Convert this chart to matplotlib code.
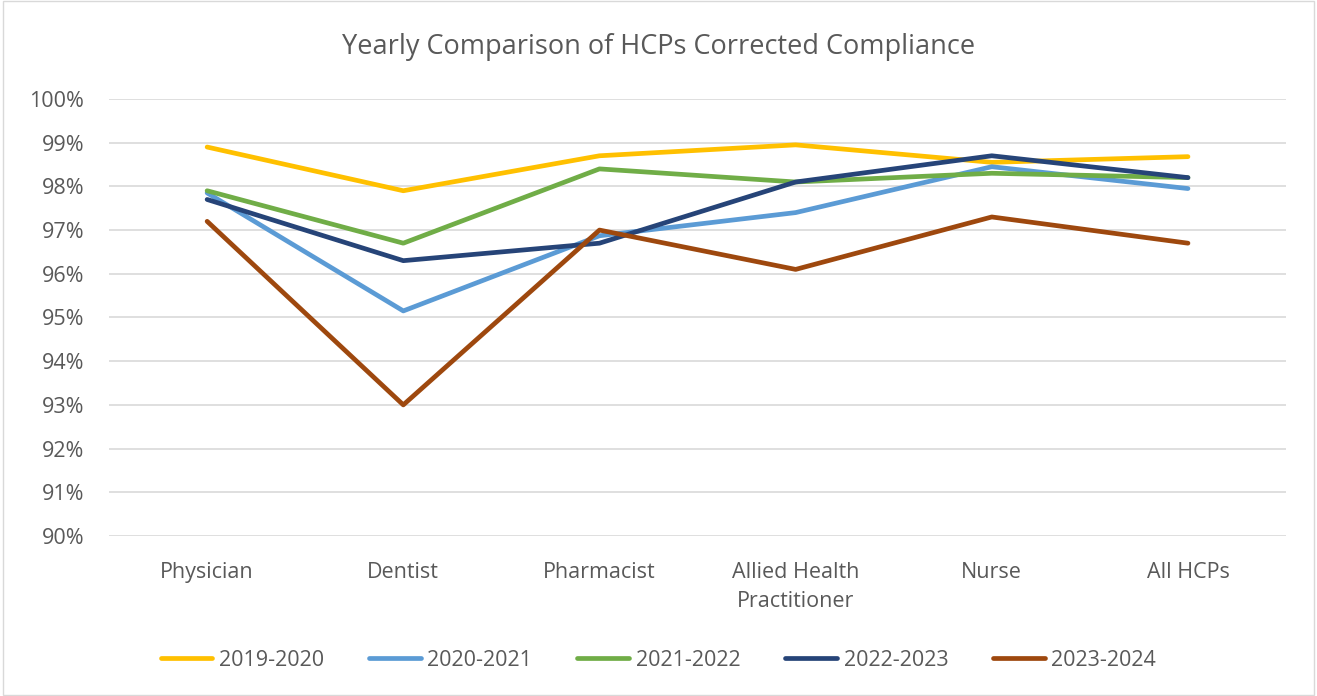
import matplotlib.pyplot as plt
from matplotlib.ticker import PercentFormatter, MultipleLocator

# Categories and yearly compliance values (percent)
categories = ['Physician', 'Dentist', 'Pharmacist', 'Allied Health\nPractitioner', 'Nurse', 'All HCPs']
years = ['2019-2020', '2020-2021', '2021-2022', '2022-2023', '2023-2024']
y2019 = [98.9, 97.9, 98.7, 98.95, 98.55, 98.68]
y2020 = [97.85, 95.15, 96.87, 97.4, 98.45, 97.95]
y2021 = [97.9, 96.7, 98.4, 98.1, 98.3, 98.2]
y2022 = [97.7, 96.3, 96.7, 98.1, 98.7, 98.2]
y2023 = [97.2, 93.0, 97.0, 96.1, 97.3, 96.7]
colors = ['#FFC000', '#5B9BD5', '#70AD47', '#264478', '#9E480E']

plt.rcParams['font.family'] = ['Open Sans', 'DejaVu Sans']

fig = plt.figure(figsize=(13.17, 6.96), dpi=100)
# chart border
fig.patches.append(plt.Rectangle((0.002, 0.002), 0.996, 0.996, transform=fig.transFigure,
                                 fill=False, edgecolor='#D9D9D9', linewidth=1))
ax = fig.add_axes([0.0828, 0.2299, 0.8937, 0.6279])

x = range(len(categories))
for vals, lab, c in zip([y2019, y2020, y2021, y2022, y2023], years, colors):
    ax.plot(x, vals, color=c, linewidth=3.4, label=lab, solid_capstyle='round')

ax.set_xlim(-0.5, len(categories) - 0.5)
ax.set_ylim(90, 100)
ax.yaxis.set_major_locator(MultipleLocator(1))
ax.yaxis.set_major_formatter(PercentFormatter(decimals=0))
ax.set_xticks(list(x))
ax.set_xticklabels(categories, linespacing=1.45)
ax.grid(axis='y', color='#D9D9D9', linewidth=1.2)
ax.set_axisbelow(True)
for s in ax.spines.values():
    s.set_visible(False)
ax.tick_params(axis='both', length=0, labelsize=15.5, colors='#595959')
ax.tick_params(axis='x', pad=19)
ax.tick_params(axis='y', pad=18)

fig.text(0.5, 0.933, 'Yearly Comparison of HCPs Corrected Compliance', ha='center', va='center',
         fontsize=19.5, color='#595959')

fig.legend(loc='center', bbox_to_anchor=(0.5, 0.051), ncol=5, frameon=False,
           fontsize=15.5, handlelength=2.4, columnspacing=2.1, handletextpad=0.3,
           labelcolor='#595959')

fig.savefig('out.png', dpi=100)
